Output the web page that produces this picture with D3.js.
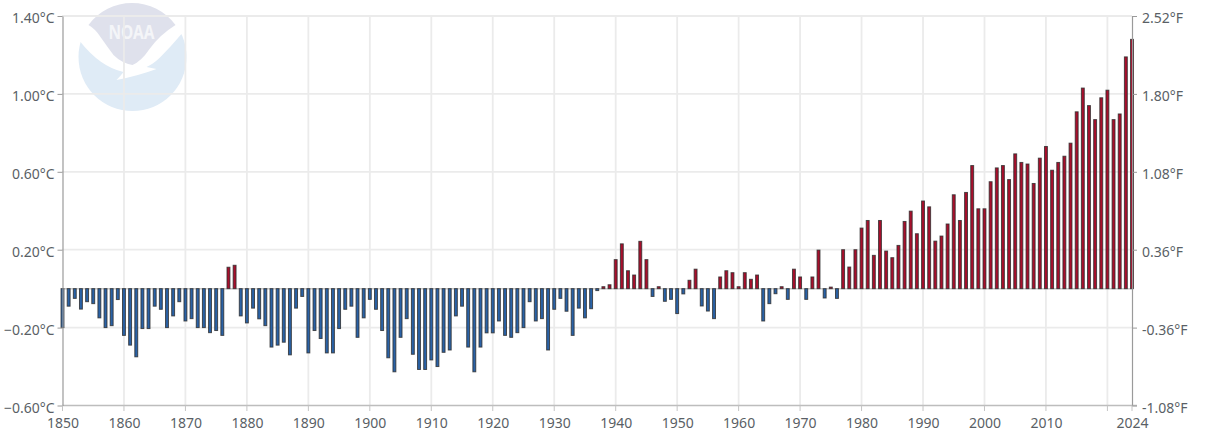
<!DOCTYPE html>
<html><head><meta charset="utf-8">
<script src="https://cdn.jsdelivr.net/npm/d3@7/dist/d3.min.js"></script>
<style>
html,body{margin:0;padding:0;background:#fff}
svg{display:block}
text{font-family:"Noto Sans","Open Sans",sans-serif;font-size:14px;fill:#5a5f66}
</style></head><body><div id="chart"></div>
<script>
const startYear = 1850;
const anomalies = [
-0.20,-0.09,-0.05,-0.105,-0.067,-0.077,-0.15,-0.20,-0.19,-0.056,
-0.24,-0.29,-0.35,-0.205,-0.205,-0.09,-0.106,-0.20,-0.14,-0.067,
-0.166,-0.154,-0.20,-0.20,-0.226,-0.215,-0.24,0.11,0.12,-0.14,
-0.176,-0.10,-0.155,-0.19,-0.30,-0.29,-0.275,-0.34,-0.10,-0.04,
-0.33,-0.215,-0.256,-0.33,-0.33,-0.205,-0.106,-0.09,-0.25,-0.15,
-0.055,-0.106,-0.215,-0.355,-0.427,-0.25,-0.154,-0.337,-0.415,-0.415,
-0.366,-0.40,-0.327,-0.315,-0.14,-0.09,-0.30,-0.427,-0.30,-0.227,
-0.227,-0.166,-0.24,-0.25,-0.226,-0.20,-0.067,-0.166,-0.154,-0.315,
-0.106,-0.05,-0.116,-0.24,-0.10,-0.15,-0.103,-0.01,0.01,0.02,
0.149,0.23,0.092,0.07,0.243,0.149,-0.04,0.01,-0.065,-0.055,
-0.128,-0.027,0.043,0.10,-0.089,-0.115,-0.154,0.06,0.092,0.082,
0.01,0.082,0.048,0.07,-0.166,-0.077,-0.026,0.01,-0.055,0.10,
0.06,-0.055,0.06,0.198,-0.048,0.008,-0.05,0.20,0.111,0.20,
0.311,0.35,0.171,0.35,0.193,0.159,0.222,0.345,0.398,0.282,
0.45,0.42,0.244,0.27,0.332,0.482,0.35,0.494,0.632,0.41,
0.41,0.549,0.62,0.632,0.56,0.692,0.648,0.64,0.54,0.67,
0.73,0.608,0.648,0.68,0.747,0.908,1.03,0.94,0.868,0.98,
1.019,0.868,0.897,1.19,1.28];
const years = anomalies.map((_, i) => startYear + i);
const celsiusTicks = [-0.6,-0.2,0.2,0.6,1.0,1.4];
const fahrenheitLabels = ["-1.08°F","-0.36°F","0.36°F","1.08°F","1.80°F","2.52°F"];
const yearLabels = d3.range(1850, 2011, 10).concat([2024]);
const yearGrid = d3.range(1860, 2021, 10);
const warmColor = "#a80f2c", coolColor = "#2a62a6";

const W = 1205, H = 433;
const svg = d3.select("#chart").append("svg").attr("width", W).attr("height", H);
const x = d3.scaleLinear().domain([1850, 2024]).range([62.5, 1132]);
const y = d3.scaleLinear().domain([-0.6, 1.4]).range([405.5, 16]);

// NOAA logo watermark
const logo = svg.append("g").attr("transform", "translate(132.5,57)");
logo.append("circle").attr("r", 54).attr("fill", "#dfebf6");
logo.append("path").attr("fill", "#fff")
  .attr("d", "M-56,-60 H56 V-24 L49,-23 Q38,-10 28,0 Q21,7 14,10 L24,12 Q5,19 -16,23 Q-12,19 -9,15 Q-32,10 -52,-15 L-56,-15 Z");
logo.append("path").attr("fill", "#dfe1ec")
  .attr("d", "M-44,-32 A54,54 0 0 1 43,-32 Q27,-22 17,-8 Q9,4 0,8 Q-11,6 -19,-2 Q-25,-10 -32,-20 Q-37,-28 -44,-32 Z");
logo.append("text").attr("x", -1).attr("y", -18).attr("text-anchor", "middle")
  .attr("textLength", 46).attr("lengthAdjust", "spacingAndGlyphs")
  .style("fill", "#f4f5f8").style("font-size", "20px").style("font-weight", "700").text("NOAA");

// grid
const gridColor = "#ebebeb";
svg.append("g").selectAll("line").data(celsiusTicks.slice(1)).join("line")
  .attr("x1", 62).attr("x2", 1132).attr("y1", d => y(d)).attr("y2", d => y(d))
  .attr("stroke", gridColor).attr("stroke-width", 1.8);
svg.append("g").selectAll("line").data(yearGrid).join("line")
  .attr("x1", d => x(d)).attr("x2", d => x(d)).attr("y1", 16).attr("y2", 405)
  .attr("stroke", gridColor).attr("stroke-width", 1.8);

function styleAxis(g) {
  g.selectAll(".domain").attr("stroke", "#9a9a9a").attr("stroke-width", 1.2);
  g.selectAll(".tick line").attr("stroke", "#9a9a9a");
  g.selectAll("text").style("font-size", "14px").attr("dy", "0.48em");
}
svg.append("line").attr("x1", 62).attr("x2", 1137).attr("y1", y(-0.6)).attr("y2", y(-0.6))
  .attr("stroke", "#bdbdbd").attr("stroke-width", 1.6);
svg.append("line").attr("x1", 62).attr("x2", 1132).attr("y1", y(0)).attr("y2", y(0))
  .attr("stroke", "#c8c8c8").attr("stroke-width", 1.5);

// bars
const barW = 2.9;
svg.append("g").selectAll("rect").data(years).join("rect")
  .attr("x", d => x(d) - barW / 2)
  .attr("width", barW)
  .attr("y", (d, i) => Math.min(y(anomalies[i]), y(0)))
  .attr("height", (d, i) => Math.abs(y(anomalies[i]) - y(0)))
  .attr("fill", (d, i) => anomalies[i] >= 0 ? warmColor : coolColor)
  .attr("stroke", "#2c2c2c").attr("stroke-opacity", 0.8).attr("stroke-width", 1);

const left = svg.append("g").attr("transform", "translate(62.5,0)")
  .call(d3.axisLeft(y).tickValues(celsiusTicks).tickSize(5).tickSizeOuter(0).tickPadding(3)
    .tickFormat(d => d3.format(".2f")(d) + "°C"));
styleAxis(left);
const right = svg.append("g").attr("transform", "translate(1132,0)")
  .call(d3.axisRight(y).tickValues(celsiusTicks).tickSize(5).tickSizeOuter(0).tickPadding(5)
    .tickFormat((d, i) => fahrenheitLabels[i]));
styleAxis(right);
const tickGroup = svg.append("g").selectAll("line").data(yearGrid.concat([1850, 2024])).join("line")
  .attr("x1", d => x(d)).attr("x2", d => x(d)).attr("y1", 405.5).attr("y2", 411)
  .attr("stroke", "#c4c4c4");
const bottom = svg.append("g").attr("transform", "translate(0,405.5)")
  .call(d3.axisBottom(x).tickValues(yearLabels).tickSize(0).tickSizeOuter(0).tickPadding(13).tickFormat(d3.format("d")));
bottom.selectAll(".domain").attr("stroke", "none");
bottom.selectAll("text").style("font-size", "14px");
</script></body></html>
